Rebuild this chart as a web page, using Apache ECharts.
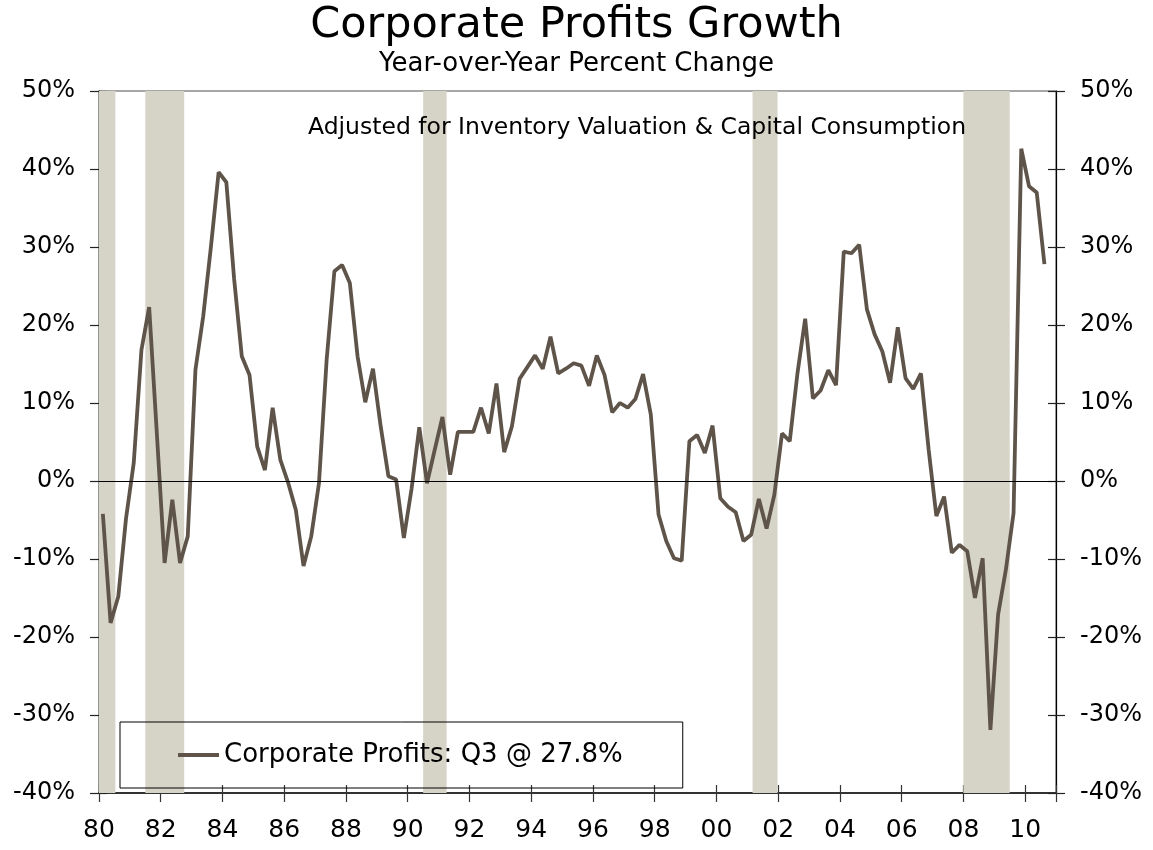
<!DOCTYPE html>
<html>
<head>
<meta charset="utf-8">
<title>Corporate Profits Growth</title>
<script src="https://cdn.jsdelivr.net/npm/echarts@6/dist/echarts.min.js"></script>
<style>
  html, body { margin: 0; padding: 0; background: #fff; }
  #chart { width: 1153px; height: 850px; }
</style>
</head>
<body>
<div id="chart"></div>
<script>
// quarterly, year-over-year % change, starting 1980 Q1 (last point 2010 Q3)
var startYear = 1980;
var profits = [
  -4.2, -18.2, -14.8, -4.8,   2.3, 16.8, 22.3, 6.0,   -10.5, -2.4, -10.5, -7.1,
  14.3, 21.1, 30.0, 39.6,     38.3, 26.0, 16.0, 13.6,  4.4, 1.4, 9.4, 2.7,
  -0.2, -3.7, -10.9, -7.1,    -0.3, 15.6, 26.9, 27.7,  25.4, 16.0, 10.1, 14.4,
  7.0, 0.6, 0.2, -7.3,        -1.0, 6.9, -0.3, 4.0,    8.2, 0.8, 6.3, 6.3,
  6.3, 9.4, 6.1, 12.5,        3.7, 7.0, 13.1, 14.6,    16.1, 14.4, 18.5, 13.8,
  14.4, 15.1, 14.8, 12.2,     16.1, 13.6, 8.8, 10.0,   9.4, 10.5, 13.7, 8.5,
  -4.3, -7.7, -9.9, -10.2,    5.1, 5.9, 3.6, 7.1,      -2.2, -3.3, -4.0, -7.7,
  -6.9, -2.3, -6.1, -1.8,     6.1, 5.1, 13.8, 20.8,    10.6, 11.6, 14.2, 12.3,
  29.4, 29.2, 30.3, 22.0,     18.8, 16.6, 12.6, 19.7,  13.2, 11.8, 13.8, 4.0,
  -4.5, -2.0, -9.2, -8.2,     -9.0, -15.0, -9.9, -31.9, -17.1, -11.4, -4.1, 42.6,
  37.8, 37.0, 27.8
];
// recession periods, decimal years
var recessions = [
  [1980.0, 1980.53],
  [1981.5, 1982.76],
  [1990.5, 1991.26],
  [2001.17, 2001.98],
  [2008.0, 2009.5]
];
var seriesName = 'Corporate Profits: Q3 @ 27.8%';
var noteText = 'Adjusted for Inventory Valuation & Capital Consumption';

var FONT = 'DejaVu Sans';
var lineColor = '#5f5449';
var barColor = '#d6d3c7';

// each quarter plotted at its midpoint
var lineData = [];
for (var i = 0; i < profits.length; i++) {
  lineData.push([startYear + i * 0.25 + 0.125, profits[i]]);
}
var areaData = [];
for (var j = 0; j < recessions.length; j++) {
  areaData.push([{ xAxis: recessions[j][0] }, { xAxis: recessions[j][1] }]);
}

var chart = echarts.init(document.getElementById('chart'));

function yAxisDef(pos, inside) {
  return {
    type: 'value', position: pos, min: -40, max: 50, interval: 10,
    axisLine: { show: !inside, lineStyle: { color: '#000', width: 1.2 } },
    axisTick: { show: true, inside: inside, length: inside ? 8 : 9, lineStyle: { color: '#222', width: 1.2 } },
    axisLabel: {
      show: !inside, margin: 24, color: '#000', fontSize: 24, fontFamily: FONT,
      formatter: '{value}%'
    },
    splitLine: { show: false }
  };
}
function xAxisDef(inside) {
  return {
    type: 'value', position: 'bottom', min: 1980, max: 2011, interval: 2,
    axisLine: { show: !inside, onZero: false, lineStyle: { color: '#333', width: 1.8 } },
    axisTick: { show: true, inside: inside, length: inside ? 8 : 9, lineStyle: { color: '#333', width: 1.2 } },
    axisLabel: {
      show: !inside, margin: 25, color: '#000', fontSize: 25, fontFamily: FONT,
      formatter: function (v) {
        if (v > 2010 || v % 2 !== 0) return '';
        var s = String(v % 100);
        return s.length < 2 ? '0' + s : s;
      }
    },
    splitLine: { show: false }
  };
}

var option = {
  animation: false,
  title: [
    { text: 'Corporate Profits Growth', left: 'center', top: -1,
      textStyle: { fontFamily: FONT, fontSize: 43, fontWeight: 'normal', color: '#000' } },
    { text: 'Year-over-Year Percent Change', left: 'center', top: 46,
      textStyle: { fontFamily: FONT, fontSize: 26, fontWeight: 'normal', color: '#000' } }
  ],
  grid: { left: 99, right: 97, top: 91, bottom: 57, show: true, borderColor: '#8a8a8a', borderWidth: 1.5, backgroundColor: 'transparent' },
  xAxis: [xAxisDef(false), xAxisDef(true)],
  yAxis: [yAxisDef('left', false), yAxisDef('right', false), yAxisDef('left', true), yAxisDef('right', true)],
  legend: {
    left: 120, top: 722, orient: 'horizontal',
    padding: [20, 60, 20, 58],
    borderColor: '#000', borderWidth: 1,
    itemWidth: 41, itemHeight: 4,
    data: [{ name: seriesName, icon: 'rect' }],
    textStyle: { fontFamily: FONT, fontSize: 26, color: '#000' }
  },
  graphic: [
    { type: 'text', z: 50,
      style: { text: noteText, x: 637, y: 128, align: 'center', verticalAlign: 'middle',
        font: '23.5px "DejaVu Sans"', fill: '#000' } }
  ],
  series: [
    { type: 'line', name: 'recessions', data: [], z: 1, silent: true,
      markArea: { silent: true, itemStyle: { color: barColor }, data: areaData } },
    { type: 'line', name: 'zero', data: [], z: 2, silent: true,
      markLine: { silent: true, symbol: 'none', label: { show: false },
        lineStyle: { color: '#000', width: 1.2, type: 'solid' }, data: [{ yAxis: 0 }] } },
    { type: 'line', name: seriesName, data: lineData, z: 3,
      showSymbol: false, symbol: 'none',
      itemStyle: { color: lineColor },
      lineStyle: { color: lineColor, width: 3.8 } }
  ]
};
chart.setOption(option);
</script>
</body>
</html>
